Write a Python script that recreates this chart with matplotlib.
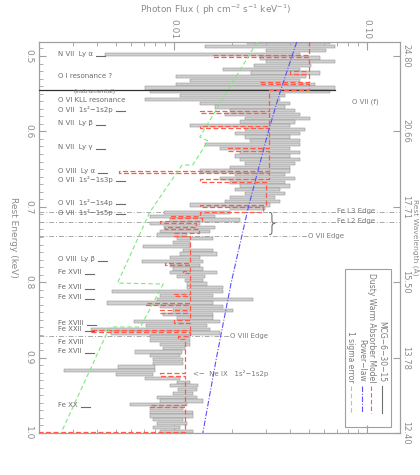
import numpy as np
import matplotlib
matplotlib.use("Agg")
import matplotlib.pyplot as plt
from matplotlib.ticker import LogLocator, NullFormatter, MultipleLocator
from matplotlib.patches import Rectangle
from matplotlib.lines import Line2D

# ---------------- data ----------------
bin_width = 0.005
bin_start = 0.48
flux_lo = [0.024, 0.0145, 0.030, 0.0044, 0.028, 0.030, 0.026, 0.018, 0.025, 0.0102,
           0.0121, 0.0102, 0.0071, 0.0075, 0.0107, 0.0071, 0.0136, 0.0163, 0.0195, 0.0184,
           0.0233, 0.0220, 0.0121, 0.0233, 0.0207, 0.0233, 0.0248, 0.0145, 0.0173, 0.0220,
           0.0207, 0.0220, 0.0233, 0.0195, 0.0136, 0.0207, 0.0173, 0.0195, 0.0220, 0.0207,
           0.0233, 0.0195, 0.0184, 0.0121, 0.0195, 0.0089, 0.0075, 0.0095, 0.0075, 0.0089,
           0.0085, 0.0082, 0.0104, 0.0099, 0.0069, 0.0111, 0.0107, 0.0095, 0.0068, 0.0095,
           0.0099, 0.0095, 0.0104, 0.0114, 0.0117, 0.0117, 0.0048, 0.0085, 0.0082, 0.0045,
           0.0085, 0.0099, 0.0088, 0.0104, 0.0062, 0.0072, 0.0037, 0.0047, 0.0075, 0.0075,
           0.0085, 0.0088, 0.0063, 0.0075, 0.0078, 0.0078, 0.0051, 0.0027, 0.0050, 0.0071,
           0.0104, 0.0095, 0.0105, 0.0099, 0.0082, 0.0085, 0.0059, 0.0075, 0.0075, 0.0075,
           0.0078, 0.0082, 0.0078, 0.0085]
flux_hi = [0.064, 0.068, 0.061, 0.045, 0.057, 0.068, 0.051, 0.045, 0.057, 0.048,
           0.045, 0.054, 0.068, 0.064, 0.0376, 0.0354, 0.040, 0.0376, 0.0424, 0.045,
           0.0507, 0.0424, 0.040, 0.0478, 0.045, 0.040, 0.045, 0.045, 0.040, 0.045,
           0.040, 0.045, 0.0424, 0.040, 0.040, 0.0376, 0.0424, 0.0376, 0.040, 0.0354,
           0.0376, 0.0334, 0.0354, 0.0314, 0.0296, 0.0195, 0.0163, 0.0220, 0.0136, 0.0163,
           0.0154, 0.0117, 0.0159, 0.0121, 0.0121, 0.0159, 0.0167, 0.0136, 0.0141, 0.0136,
           0.0141, 0.0167, 0.0145, 0.0141, 0.0148, 0.0180, 0.0180, 0.0159, 0.0257, 0.0159,
           0.0180, 0.0202, 0.0159, 0.0159, 0.0173, 0.0148, 0.0154, 0.0173, 0.0121, 0.0121,
           0.0121, 0.0114, 0.0110, 0.0107, 0.0111, 0.0111, 0.0080, 0.0080, 0.0078, 0.0107,
           0.0121, 0.0133, 0.0132, 0.0125, 0.0132, 0.0141, 0.0117, 0.0111, 0.0125, 0.0125,
           0.0111, 0.0117, 0.0107, 0.0125]

model_edges = [0.480, 0.4985, 0.5015, 0.520, 0.5235, 0.534, 0.537, 0.5445, 0.5725, 0.5755,
               0.5925, 0.5955, 0.6225, 0.6255, 0.6525, 0.6555, 0.6635, 0.6665, 0.6975, 0.7005,
               0.707, 0.712, 0.715, 0.719, 0.722, 0.727, 0.730, 0.735, 0.739, 0.7745,
               0.7775, 0.785, 0.788, 0.8155, 0.8185, 0.8275, 0.8305, 0.8375, 0.8405, 0.8505,
               0.8535, 0.8635, 0.8665, 0.8715, 0.875, 0.9205, 0.9245, 0.9625, 0.9655, 0.9985, 1.0]
model_flux = [0.050, 0.016, 0.050, 0.040, 0.050, 0.028, 0.050, 0.031, 0.0136, 0.031,
              0.0136, 0.031, 0.019, 0.031, 0.0052, 0.031, 0.0136, 0.030, 0.0136, 0.029,
              0.0136, 0.0095, 0.014, 0.0085, 0.013, 0.009, 0.0135, 0.010, 0.0121, 0.009,
              0.0121, 0.0112, 0.0121, 0.0100, 0.0121, 0.0072, 0.0121, 0.0085, 0.0121, 0.0100,
              0.0121, 0.0037, 0.0121, 0.0105, 0.0114, 0.0085, 0.0114, 0.0075, 0.0114, 0.0015]

pl_energy = [0.4814, 0.55, 0.60, 0.70, 0.80, 0.90, 1.00]
pl_flux = [0.0432, 0.0352, 0.0308, 0.0243, 0.0198, 0.0166, 0.0141]

err_energy = [0.4814, 0.6074, 0.6127, 0.6446, 0.6446, 0.7069, 0.8011, 0.8024, 0.8594, 0.8594, 0.8674, 1.0]
err_flux = [0.0269, 0.0136, 0.0150, 0.0125, 0.0110, 0.0075, 0.0051, 0.0088, 0.0067, 0.0047, 0.0045, 0.0026]

line_names = ["N VII  Ly α", "O I resonance ?", "O VI KLL resonance", "O VII  1s²−1s2p",
              "N VII  Ly β", "N VII  Ly γ", "O VIII  Ly α", "O VII  1s²−1s3p",
              "O VII  1s²−1s4p", "O VII  1s²−1s5p", "O VIII  Ly β", "Fe XVII", "Fe XVII",
              "Fe XVII", "Fe XVIII", "Fe XXII", "Fe XVIII", "Fe XVII", "Fe XX"]
line_energy = [0.500, 0.5292, 0.5610, 0.5729, 0.5915, 0.6233, 0.6552, 0.6658, 0.6963, 0.7095,
               0.7719, 0.7891, 0.8090, 0.8223, 0.8568, 0.8647, 0.8820, 0.8939, 0.9655]
line_has_tick = [1, 0, 0, 1, 1, 1, 1, 1, 1, 1, 1, 1, 1, 1, 1, 1, 0, 1, 1]

edge_names = ["Fe L3 Edge", "Fe L2 Edge", "O VII Edge", "O VIII Edge"]
edge_energy = [0.7067, 0.7198, 0.7393, 0.8714]
edge_line_end = [0.148, 0.148, 0.049, 0.0193]
edge_text_x = [0.0699, 0.0699, 0.0495, 0.0195]

instr_energy = 0.5455
energy_ticks = [0.5, 0.6, 0.7, 0.8, 0.9, 1.0]
energy_ticklabels = ["0.5", "0.6", "0.7", "0.8", "0.9", "1.0"]
wave_ticklabels = ["24.80", "20.66", "17.71", "15.50", "13.78", "12.40"]
flux_ticks = [0.01, 0.1]
flux_ticklabels = ["0.01", "0.10"]

legend_labels = ["MCG−6−30−15", "Dusty Warm Absorber Model", "Power−law", "1 sigma error"]

# ---------------- style ----------------
GREY = "#8c8c8c"
TXT = "#7a7a7a"
RED = "#ff5a4a"
BLUE = "#5a50ff"
GREEN = "#7fe87f"
plt.rcParams["font.family"] = ["DejaVu Sans"]

fig = plt.figure(figsize=(4.2, 4.75), dpi=100)
ax = fig.add_axes([39 / 420, 1 - 433 / 475, 361 / 420, 391 / 475])
ax.set_xscale("log")
ax.set_xlim(0.002, 0.148)
ax.set_ylim(1.0, 0.4814)

# data bins
n = len(flux_lo)
centers = bin_start + bin_width * (np.arange(n) + 0.5)
lo = np.array(flux_lo)
hi = np.array(flux_hi)
ax.barh(centers, hi - lo, left=lo, height=bin_width * 0.85, color="#d0d0d0",
        edgecolor="#8a8a8a", linewidth=0.35, zorder=2)

# instrumental line
ax.plot([0.002, 0.068], [instr_energy, instr_energy], color="#303030", lw=0.9, zorder=3)

# model step
me = np.array(model_edges)
ys = np.column_stack([me[:-1], me[1:]]).ravel()
xs = np.repeat(model_flux, 2)
ax.plot(xs, ys, color=RED, lw=0.9, dashes=(4, 2), zorder=4)

# power law
ax.plot(pl_flux, pl_energy, color=BLUE, lw=0.8, dashes=(5, 1.5, 1, 1.5), zorder=5)
# 1 sigma
ax.plot(err_flux, err_energy, color=GREEN, lw=0.8, dashes=(4, 2.5), zorder=5)

# edges
for name, e, xe, xt in zip(edge_names, edge_energy, edge_line_end, edge_text_x):
    ax.plot([0.002, xe], [e, e], color="#a8a8a8", lw=0.7, dashes=(5, 2, 1, 2), zorder=1)
    ax.text(xt, e - 0.0005, name, fontsize=5, color=TXT, ha="left", va="center", zorder=6)

# line labels
fig.canvas.draw()
renderer = fig.canvas.get_renderer()
for name, e, tk in zip(line_names, line_energy, line_has_tick):
    t = ax.text(0.00251, e - 0.0025, name, fontsize=5, color="#6a6a6a", ha="left",
                va="center", zorder=6)
    if tk:
        bb = t.get_window_extent(renderer)
        inv = ax.transData.inverted()
        x0 = inv.transform((bb.x1 + 3, 0))[0]
        x1 = inv.transform((bb.x1 + 12, 0))[0]
        ax.plot([x0, x1], [e, e], color="#6a6a6a", lw=0.8, zorder=6)

ax.text(0.00303, instr_energy + 0.0015, "(Instrumental)", fontsize=4.2, color="#6a6a6a",
        ha="left", va="center", zorder=6)
ax.text(0.084, 0.5600, "O VII (f)", fontsize=5, color=TXT, ha="left", va="center")
ax.text(0.0125, 0.9210, "<−  Ne IX   1s²−1s2p", fontsize=5, color=TXT, ha="left", va="center")
ax.text(0.0322, 0.7228, "}", fontsize=17, color="#707070", ha="center", va="center",
        fontweight="light")

# axes styling
for sp in ax.spines.values():
    sp.set_color("#a0a0a0")
    sp.set_linewidth(0.9)
ax.set_xticks(flux_ticks)
ax.set_xticklabels(flux_ticklabels)
ax.xaxis.set_minor_locator(LogLocator(base=10, subs=np.arange(2, 10)))
ax.xaxis.set_minor_formatter(NullFormatter())
ax.set_yticks(energy_ticks)
ax.set_yticklabels(energy_ticklabels)
ax.yaxis.set_minor_locator(MultipleLocator(0.01))
ax.tick_params(axis="both", which="both", direction="in", color="#a0a0a0",
               labelcolor=GREY, labelsize=6.5)
ax.tick_params(axis="x", which="both", top=True, bottom=True, labeltop=True,
               labelbottom=False)
ax.tick_params(axis="x", which="major", labelrotation=270, length=5.5, pad=2)
ax.tick_params(axis="x", which="minor", length=3)
ax.tick_params(axis="y", which="major", labelrotation=270, length=5, pad=4)
ax.tick_params(axis="y", which="minor", length=3)
for lb in ax.get_yticklabels():
    lb.set_va("center")

ax2 = ax.twinx()
ax2.set_ylim(ax.get_ylim())
ax2.set_yticks(energy_ticks)
ax2.set_yticklabels(wave_ticklabels)
ax2.tick_params(axis="y", direction="in", length=5, color="#a0a0a0", labelcolor=GREY,
                labelsize=6.0, labelrotation=270, pad=1)
for lb in ax2.get_yticklabels():
    lb.set_va("center")
for sp in ax2.spines.values():
    sp.set_visible(False)

fig.text(216 / 420, 1 - 10 / 475, "Photon Flux ( ph cm$^{-2}$ s$^{-1}$ keV$^{-1}$)",
         fontsize=6.5, color=GREY, ha="center", va="center")
fig.text(13 / 420, 1 - 237 / 475, "Rest Energy (keV)", fontsize=6.5, color=GREY,
         rotation=270, ha="center", va="center")
fig.text(415 / 420, 1 - 237 / 475, "Rest Wavelength (Å)", fontsize=5.4, color=GREY,
         rotation=270, ha="center", va="center")

# legend box
ax.add_patch(Rectangle((0.848, 0.015), 0.127, 0.404, transform=ax.transAxes, fill=False,
                       edgecolor="#a0a0a0", lw=0.8, zorder=7))
leg_x = [0.949, 0.921, 0.894, 0.864]
leg_style = [dict(color="#707070", ls="-"), dict(color=RED, dashes=(4, 2)),
             dict(color=BLUE, dashes=(5, 1.5, 1, 1.5)), dict(color=GREEN, dashes=(4, 2.5))]
for lab, xx, st in zip(legend_labels, leg_x, leg_style):
    ax.text(xx, 0.130, lab, transform=ax.transAxes, rotation=270, fontsize=5.5, color=TXT,
            ha="center", va="bottom", zorder=8)
    ax.add_line(Line2D([xx, xx], [0.120, 0.051], transform=ax.transAxes, lw=0.8, zorder=8,
                       **st))

fig.savefig("out.png", dpi=100)
